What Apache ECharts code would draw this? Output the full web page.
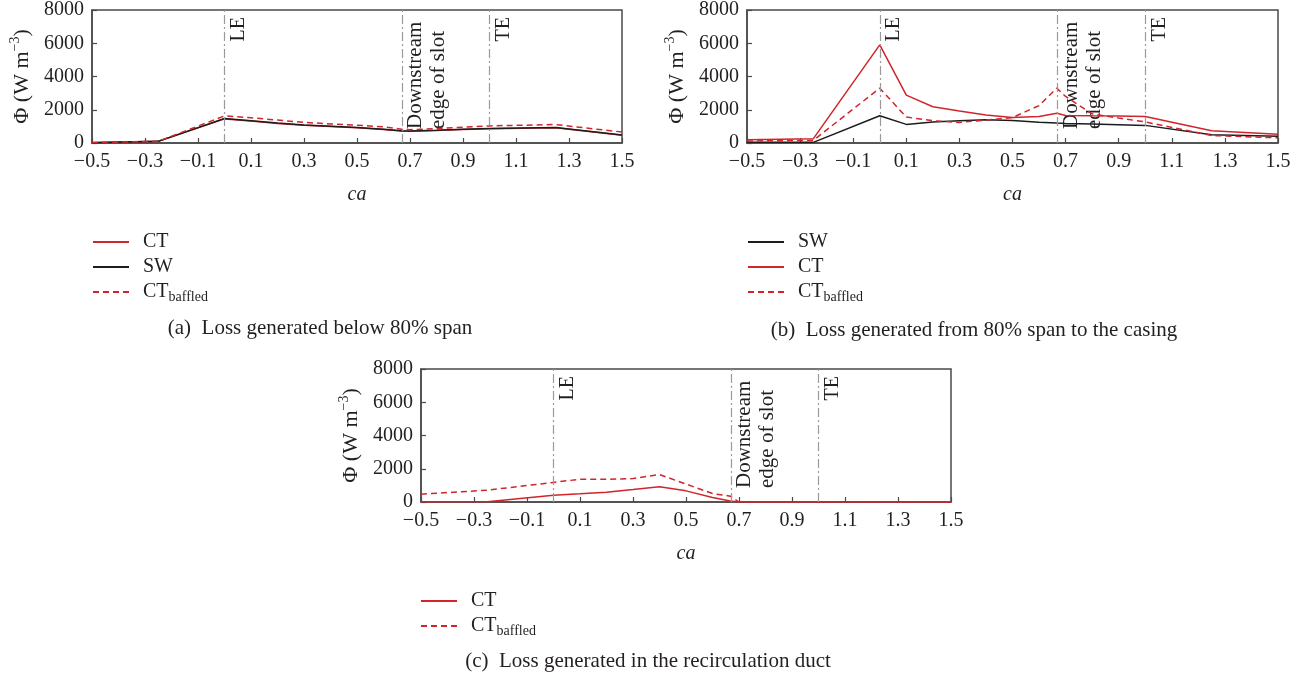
<!DOCTYPE html>
<html><head><meta charset="utf-8">
<script src="https://cdn.jsdelivr.net/npm/echarts@6/dist/echarts.min.js"></script>
<style>html,body{margin:0;padding:0;background:#fff}#c{width:1308px;height:682px}</style>
</head><body><div id="c"></div>
<script>
// ---- data ----
const ca = [-0.5, -0.25, 0, 0.1, 0.2, 0.3, 0.4, 0.5, 0.6, 0.667, 0.7, 0.8, 0.9, 1.0, 1.25, 1.5];
// (a) below 80% span
const swA  = [20, 100, 1470, 1340, 1200, 1090, 1010, 930, 830, 730, 720, 760, 820, 870, 930, 480];
const ctA  = [30, 110, 1450, 1320, 1180, 1070, 990, 910, 810, 715, 705, 745, 805, 855, 915, 465];
const ctbA = [20, 100, 1630, 1520, 1380, 1240, 1150, 1070, 970, 830, 800, 870, 950, 1030, 1110, 660];
// (b) 80% span to casing
const swB  = [40, 40, 1640, 1120, 1270, 1340, 1400, 1350, 1250, 1200, 1180, 1140, 1100, 1060, 500, 400];
const ctB  = [200, 260, 5900, 2880, 2180, 1920, 1690, 1540, 1590, 1790, 1660, 1640, 1630, 1590, 740, 520];
const ctbB = [120, 160, 3300, 1560, 1340, 1240, 1380, 1530, 2250, 3300, 2800, 1750, 1500, 1270, 450, 310];
// (c) recirculation duct
const ctC  = [0, 20, 410, 490, 590, 750, 920, 670, 270, 60, 0, 0, 0, 0, 0, 0];
const ctbC = [470, 710, 1180, 1370, 1370, 1410, 1650, 1080, 510, 350, 0, 0, 0, 0, 0, 0];

const xRange = {min: -0.5, max: 1.5, interval: 0.2};
const yRange = {min: 0, max: 8000, interval: 2000};
const refLines = [0, 0.667, 1.0];
const refLabels = ['LE', 'Downstream\nedge of slot', 'TE'];
const captions = ['(a)  Loss generated below 80% span', '(b)  Loss generated from 80% span to the casing', '(c)  Loss generated in the recirculation duct'];
const legendOrders = [['CT', 'SW', 'CTb'], ['SW', 'CT', 'CTb'], ['CT', 'CTb']];

// ---- styling ----
const FONT = 'Liberation Serif';
const TXT = '#231f20';
const AX = '#4a4a4a';
const RED = '#d0252b';
const BLK = '#1c1c1c';
const grids = [
  {left: 92, top: 10, width: 530, height: 133},
  {left: 747, top: 10, width: 531, height: 133},
  {left: 421, top: 369, width: 530, height: 133}
];
const legendPos = [{left: 92, top: 232}, {left: 747, top: 232}, {left: 420, top: 591}];
const captionPos = [[320, 328], [974, 330], [648, 661]];

function pairs(v) { return ca.map((x, i) => [x, v[i]]); }
function fmtX(v) { const s = (Math.round(v * 10) / 10).toFixed(1); return s.replace('-', '\u2212'); }

const styles = {
  CT: {color: RED, type: 'solid'},
  SW: {color: BLK, type: 'solid'},
  CTb: {color: RED, type: [6, 4]}
};

function mkSeries(name, vals, gi, withMark) {
  const st = styles[name];
  const s = {
    type: 'line', name: name, xAxisIndex: gi, yAxisIndex: gi,
    data: pairs(vals), symbol: 'none', showSymbol: false,
    itemStyle: {color: st.color},
    lineStyle: {color: st.color, width: 1.5, type: st.type},
    silent: true, animation: false
  };
  if (withMark) {
    s.markLine = {
      silent: true, symbol: ['none', 'none'], animation: false,
      label: {show: false},
      lineStyle: {color: '#9a9a9a', width: 1.2, type: [9, 3, 2, 3]},
      data: refLines.map(x => ({xAxis: x}))
    };
  }
  return s;
}

const series = [
  mkSeries('CT', ctA, 0, true), mkSeries('SW', swA, 0), mkSeries('CTb', ctbA, 0),
  mkSeries('SW', swB, 1, true), mkSeries('CT', ctB, 1), mkSeries('CTb', ctbB, 1),
  mkSeries('CT', ctC, 2, true), mkSeries('CTb', ctbC, 2)
];

const xAxes = grids.map((g, i) => ({
  type: 'value', gridIndex: i, min: xRange.min, max: xRange.max, interval: xRange.interval,
  axisLine: {show: true, onZero: false, lineStyle: {color: AX, width: 1.5}},
  axisTick: {show: true, inside: true, length: 5, lineStyle: {color: AX, width: 1.2}},
  axisLabel: {fontFamily: FONT, fontSize: 20, color: TXT, margin: 9, formatter: fmtX},
  splitLine: {show: false},
  name: 'ca', nameLocation: 'middle', nameGap: 42,
  nameTextStyle: {fontFamily: FONT, fontSize: 20, fontStyle: 'italic', color: TXT}
}));

const yAxes = grids.map((g, i) => ({
  type: 'value', gridIndex: i, min: yRange.min, max: yRange.max, interval: yRange.interval,
  axisLine: {show: true, onZero: false, lineStyle: {color: AX, width: 1.5}},
  axisTick: {show: true, inside: true, length: 5, lineStyle: {color: AX, width: 1.2}},
  axisLabel: {fontFamily: FONT, fontSize: 20, color: TXT, margin: 8, formatter: v => String(v)},
  splitLine: {show: false},
  name: '{a|\u03A6 (W m}{s|\u22123}{a|)}', nameLocation: 'middle', nameGap: 56, nameRotate: 90,
  nameTextStyle: {
    color: TXT,
    rich: {
      a: {fontFamily: FONT, fontSize: 22, color: TXT, lineHeight: 28},
      s: {fontFamily: FONT, fontSize: 14, color: TXT, verticalAlign: 'top', lineHeight: 15}
    }
  }
}));

const legends = legendOrders.map((order, i) => ({
  orient: 'vertical', left: legendPos[i].left, top: legendPos[i].top, padding: 0,
  itemWidth: 36, itemHeight: 14, itemGap: 5, selectedMode: false,
  itemStyle: {opacity: 0},
  data: order,
  formatter: n => n === 'CTb' ? '{a|CT}{b|baffled}' : '{a|' + n + '}',
  textStyle: {
    fontFamily: FONT, fontSize: 20, color: TXT, padding: [0, 0, 0, 9],
    rich: {
      a: {fontFamily: FONT, fontSize: 20, color: TXT, lineHeight: 24},
      b: {fontFamily: FONT, fontSize: 14, color: TXT, verticalAlign: 'bottom', lineHeight: 14}
    }
  }
}));

const option = {
  backgroundColor: '#fff',
  animation: false,
  grid: grids.map(g => Object.assign({show: true, borderColor: AX, borderWidth: 1.5, backgroundColor: 'transparent', containLabel: false}, g)),
  xAxis: xAxes,
  yAxis: yAxes,
  legend: legends,
  series: series
};

const chart = echarts.init(document.getElementById('c'), null, {renderer: 'canvas'});
chart.setOption(option);

const graphics = [];
for (let i = 0; i < 3; i++) {
  const yTop = chart.convertToPixel({yAxisIndex: i}, yRange.max);
  const yBot = chart.convertToPixel({yAxisIndex: i}, yRange.min);
  refLines.forEach((x, k) => {
    const px = chart.convertToPixel({xAxisIndex: i}, x);
    if (k === 1) {
      graphics.push({type: 'text', x: px + 3, y: yBot - 14, rotation: Math.PI / 2, silent: true,
        style: {text: refLabels[k], fontFamily: FONT, fontSize: 21, fill: TXT, align: 'left', verticalAlign: 'top', lineHeight: 23}});
    } else {
      graphics.push({type: 'text', x: px + 4, y: yTop + 7, rotation: Math.PI / 2, silent: true,
        style: {text: refLabels[k], fontFamily: FONT, fontSize: 20, fill: TXT, align: 'right', verticalAlign: 'top'}});
    }
  });
}
captions.forEach((c, i) => {
  graphics.push({type: 'text', x: captionPos[i][0], y: captionPos[i][1], silent: true,
    style: {text: c, fontFamily: FONT, fontSize: 21, fill: TXT, align: 'center', verticalAlign: 'middle'}});
});
chart.setOption({graphic: graphics});
</script>
</body></html>
